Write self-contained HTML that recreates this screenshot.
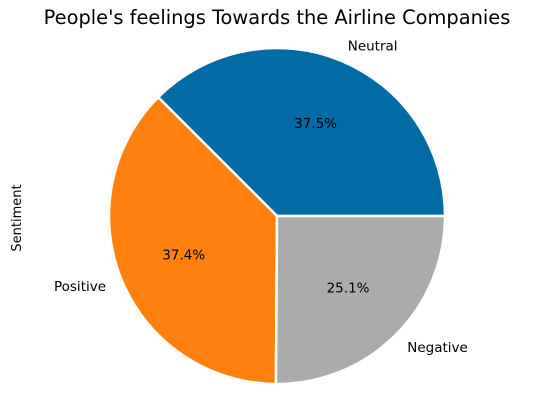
<!DOCTYPE html>
<html><head><meta charset="utf-8"><style>
html,body{margin:0;padding:0;background:#fff;}
svg{display:block;font-family:"DejaVu Sans","Liberation Sans",sans-serif;}
</style></head><body>
<svg id="chart" width="535" height="412" viewBox="0 0 535 412">
<text x="277" y="24" text-anchor="middle" font-size="19.4" fill="#000">People's feelings Towards the Airline Companies</text>
<text x="0" y="0" transform="translate(21,218) rotate(-90)" text-anchor="middle" font-size="13" fill="#000">Sentiment</text>
<g id="slices"></g>
</svg>
<script>
const categories = ["Neutral", "Positive", "Negative"];
const values = [37.5, 37.4, 25.1];
const colors = ["#006BA4", "#FF800E", "#ABABAB"];

const cx = 277, cy = 216, r = 168;
const g = document.getElementById('slices');
const ns = "http://www.w3.org/2000/svg";
const total = values.reduce((a,b)=>a+b,0);
let start = 0;
function pt(angDeg, rad){ const a = angDeg*Math.PI/180; return [cx + rad*Math.cos(a), cy - rad*Math.sin(a)]; }
values.forEach((v,i)=>{
  const sweep = v/total*360;
  const end = start + sweep;
  const [x1,y1] = pt(start,r), [x2,y2] = pt(end,r);
  const large = sweep>180?1:0;
  const p = document.createElementNS(ns,'path');
  p.setAttribute('d',`M${cx},${cy} L${x1},${y1} A${r},${r} 0 ${large} 0 ${x2},${y2} Z`);
  p.setAttribute('fill',colors[i]);
  p.setAttribute('stroke','#fff');
  p.setAttribute('stroke-width','2.5');
  p.setAttribute('stroke-linejoin','round');
  
  
  g.appendChild(p);
  const mid = start + sweep/2;
  const [lx,ly] = pt(mid, r*1.1);
  const t = document.createElementNS(ns,'text');
  t.setAttribute('x',lx); t.setAttribute('y',ly+5);
  t.setAttribute('font-size','13.5');
  t.setAttribute('text-anchor', Math.cos(mid*Math.PI/180) >= 0 ? 'start' : 'end');
  t.textContent = categories[i];
  
  
  g.appendChild(t);
  const [px,py] = pt(mid, r*0.6);
  const tp = document.createElementNS(ns,'text');
  tp.setAttribute('x',px); tp.setAttribute('y',py+5);
  tp.setAttribute('font-size','13.5');
  tp.setAttribute('text-anchor','middle');
  tp.textContent = (v/total*100).toFixed(1) + '%';
  
  
  g.appendChild(tp);
  start = end;
});
</script>
</body></html>
